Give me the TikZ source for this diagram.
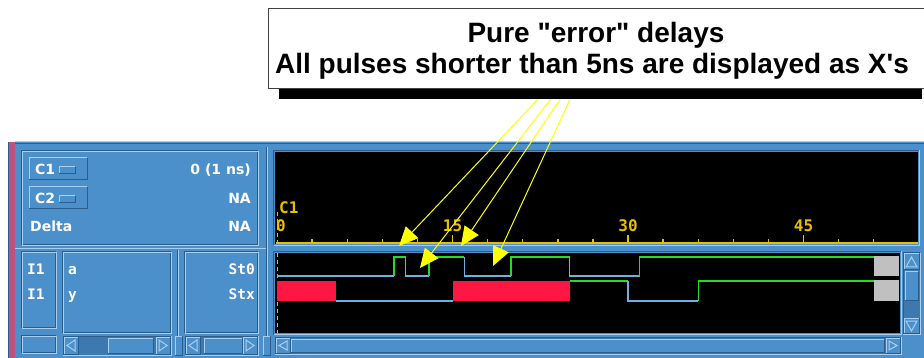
\documentclass[tikz,border=0pt]{standalone}
\usepackage{fontspec}
\newfontfamily\notefont{Liberation Sans}[Ligatures=TeXOff]
\newfontfamily\guifont{DejaVu Sans}
\newfontfamily\dvmono{DejaVu Sans Mono}
\usetikzlibrary{arrows.meta}
\definecolor{winblue}{HTML}{4B8FCB}
\definecolor{hilite}{HTML}{A9CFF0}
\definecolor{bevdark}{HTML}{2A5C8C}
\definecolor{trough}{HTML}{3D79AE}
\definecolor{pinkbar}{HTML}{C0507E}
\definecolor{xred}{HTML}{FF1744}
\definecolor{lowblue}{HTML}{6FB0E0}
\definecolor{highgreen}{HTML}{22DD22}
\definecolor{zgrey}{HTML}{C0C0C0}
\definecolor{axisgold}{HTML}{E8BE00}
\definecolor{callyellow}{HTML}{FFFF00}
\definecolor{notebord}{HTML}{404040}
% bevel helpers (x1,y1,x2,y2 in px, y downwards)
\newcommand\mysunken[4]{%
  \draw[bevdark,line width=1pt] (#1,#4) |- (#3,#2);
  \draw[hilite,line width=1pt] (#1,#4) -| (#3,#2);}
\newcommand\myraised[4]{%
  \fill[winblue] (#1,#2) rectangle (#3,#4);
  \draw[hilite,line width=1pt] (#1,#4) |- (#3,#2);
  \draw[bevdark,line width=1pt] (#1,#4) -| (#3,#2);}
\newcommand\mygroove[4]{%
  \draw[bevdark,line width=1pt] (#1,#2) rectangle (#3,#4);
  \draw[hilite,line width=1pt] ({#1+1},{#2+1}) rectangle ({#3+1},{#4+1});}
% horizontal scrollbar: x1 y1 x2 y2 slider-x1 slider-x2
\newcommand\myhscroll[6]{%
  \fill[trough] (#1,#2) rectangle (#3,#4);
  \mysunken{#1}{#2}{#3}{#4}
  \myraised{#1+1}{#2+1}{#1+15}{#4-1}
  \draw[hilite,line width=1pt] ({#1+12},{#2+4}) -- ({#1+4},{(#2+#4)/2}) -- ({#1+12},{#4-4}) -- cycle;
  \myraised{#3-15}{#2+1}{#3-1}{#4-1}
  \draw[hilite,line width=1pt] ({#3-12},{#2+4}) -- ({#3-4},{(#2+#4)/2}) -- ({#3-12},{#4-4}) -- cycle;
  \myraised{#5}{#2+2}{#6}{#4-2}}
\begin{document}
\begin{tikzpicture}[x=1pt,y=-1pt,
  guitxt/.style={text=white,font=\guifont\bfseries\fontsize{14}{15}\selectfont,inner sep=0pt},
  montxt/.style={text=white,font=\dvmono\bfseries\fontsize{14.5}{15}\selectfont,inner sep=0pt},
  axistxt/.style={text=axisgold,font=\dvmono\bfseries\fontsize{16}{17}\selectfont,inner sep=0pt},
  notetxt/.style={font=\notefont\bfseries\fontsize{28}{30}\selectfont,inner sep=0pt,text=black},
  wlow/.style={draw=lowblue,line width=1.3pt},
  whigh/.style={draw=highgreen,line width=1.3pt},
  callout/.style={draw=callyellow,line width=1pt,-{Triangle[length=19pt,width=17pt]}},
  tickmark/.style={draw=axisgold,line width=1.4pt},
  cursorline/.style={draw=axisgold,line width=1.3pt,dash pattern=on 4pt off 3pt}]
\useasboundingbox (0,0) rectangle (924,358);
\fill[white] (0,0) rectangle (924,358);
% ---------- window ----------
\fill[winblue] (15,141) rectangle (924,358);
\fill[pinkbar] (8,142) rectangle (15,358);
\draw[bevdark,line width=0.8pt] (8.5,142) -- (8.5,358);
\draw[hilite,line width=1pt] (15,141.5) -- (924,141.5);
\draw[bevdark,line width=1pt] (15,143.5) -- (924,143.5);
% vertical sashes
\draw[bevdark,line width=1pt] (266.5,147) -- (266.5,336);
\draw[hilite,line width=1pt] (267.5,147) -- (267.5,336);
\draw[bevdark,line width=1pt] (177.5,250) -- (177.5,336);
\draw[hilite,line width=1pt] (178.5,250) -- (178.5,336);
\draw[hilite,line width=1pt] (15,248.5) -- (266,248.5);
% ---------- cursor panel ----------
\mygroove{21.5}{150.5}{257.5}{244.5}
\myraised{29}{158}{87}{180}
\myraised{59}{167}{75}{174}
\myraised{29}{187}{87}{209}
\myraised{59}{196}{75}{203}
\node[guitxt,anchor=base west] (c1b) at (35,175) {C1};
\node[guitxt,anchor=base west] (c2b) at (35,204) {C2};
\node[guitxt,anchor=base east] (c1v) at (251,175) {0 (1 ns)};
\node[guitxt,anchor=base east] (c2v) at (251,204) {NA};
\node[guitxt,anchor=base west] (dl) at (30,232) {Delta};
\node[guitxt,anchor=base east] (dv) at (251,232) {NA};
% ---------- signal panels ----------
\mygroove{21.5}{251.5}{55.5}{327.5}
\mygroove{62.5}{251.5}{170.5}{332.5}
\mygroove{184.5}{251.5}{257.5}{332.5}
\mygroove{21.5}{335.5}{55.5}{352.5}
\node[montxt,anchor=base west] (i1a) at (27,274) {I1};
\node[montxt,anchor=base west] (i1b) at (27,299) {I1};
\node[montxt,anchor=base west] (na) at (68,274) {a};
\node[montxt,anchor=base west] (ny) at (68,299) {y};
\node[montxt,anchor=base east] (va) at (255,274) {St0};
\node[montxt,anchor=base east] (vy) at (255,299) {Stx};
\myhscroll{63}{336}{171}{355}{108}{153}
\myraised{175}{336}{182}{355}
\myhscroll{185}{336}{258}{355}{204}{242}
\myraised{263}{336}{270}{355}
% ---------- waveform window ----------
\fill[black] (275,152) rectangle (918,244);
\mysunken{273.5}{150.5}{919.5}{245.5}
\fill[black] (275,253) rectangle (900,333);
\mysunken{273.5}{251.5}{901.5}{334.5}
% vertical scrollbar
\fill[trough] (903,253) rectangle (920,334);
\mysunken{903}{253}{920}{334}
\myraised{904}{254}{919}{270}
\draw[hilite,line width=1pt] (906,267) -- (911.5,257) -- (917,267) -- cycle;
\myraised{905}{272}{918}{300}
\myraised{904}{318}{919}{333}
\draw[hilite,line width=1pt] (906,321) -- (911.5,331) -- (917,321) -- cycle;
% horizontal scrollbar
\myhscroll{275}{337}{901}{354}{291}{884}
% axis
\draw[axisgold,line width=1.8pt] (276,243) -- (918,243);
\foreach \k in {1,...,17} {\draw[tickmark] ({277+35.1*\k},243) -- ++(0,-4);}
\foreach \k in {5,10,15} {\draw[tickmark] ({277+35.1*\k},243) -- ++(0,-8);}
\draw[cursorline] (277.5,212) -- (277.5,243);
\draw[cursorline] (277.5,253) -- (277.5,333);
\node[axistxt,anchor=base west] (cur) at (279,214) {C1};
\node[axistxt,anchor=base west] (t0) at (276,232) {0};
\node[axistxt,anchor=base] (t15) at (452.5,232) {15};
\node[axistxt,anchor=base] (t30) at (628,232) {30};
\node[axistxt,anchor=base] (t45) at (803.5,232) {45};
% signal a : high 257, low 276
\draw[wlow] (277,276) -- (394,276);
\draw[whigh] (394,276) -- (394,257) -- (405.7,257);
\draw[wlow] (405.7,257) -- (405.7,276) -- (429.1,276);
\draw[whigh] (429.1,276) -- (429.1,257) -- (464.2,257);
\draw[wlow] (464.2,257) -- (464.2,276) -- (511,276);
\draw[whigh] (511,276) -- (511,257) -- (569.5,257);
\draw[wlow] (569.5,257) -- (569.5,276) -- (639.7,276);
\draw[whigh] (639.7,276) -- (639.7,257) -- (873.7,257);
\fill[zgrey] (873.7,256) rectangle (899,276.5);
% signal y : high 281, low 301
\fill[xred] (277,281) rectangle (335.5,301);
\draw[wlow] (335.5,301) -- (452.5,301);
\fill[xred] (452.5,281) rectangle (569.5,301);
\draw[whigh] (569.5,281) -- (628,281);
\draw[wlow] (628,281) -- (628,301) -- (698.2,301);
\draw[whigh] (698.2,301) -- (698.2,281) -- (873.7,281);
\fill[zgrey] (873.7,280.5) rectangle (899,301);
% ---------- callout arrows ----------
\coordinate (s1) at (542,95);
\coordinate (s2) at (554,95);
\coordinate (s3) at (563,95);
\coordinate (s4) at (572,95);
\coordinate (e1) at (399,246);
\coordinate (e2) at (420,268);
\coordinate (e3) at (461,246);
\coordinate (e4) at (493,266);
\draw[callout] (s1) -- (e1);
\draw[callout] (s2) -- (e2);
\draw[callout] (s3) -- (e3);
\draw[callout] (s4) -- (e4);
% ---------- note box ----------
\fill[black] (279,89) rectangle (922,99);
\fill[white] (268,8) rectangle (925,88);
\draw[notebord,line width=1pt] (925,8.5) -- (268.5,8.5) -- (268.5,88.5) -- (925,88.5);
\node[notetxt,anchor=base] (l1) at (596,42.5) {Pure "error" delays};
\node[notetxt,anchor=base] (l2) at (592,74) {All pulses shorter than 5ns are displayed as X's};
\end{tikzpicture}
\end{document}
